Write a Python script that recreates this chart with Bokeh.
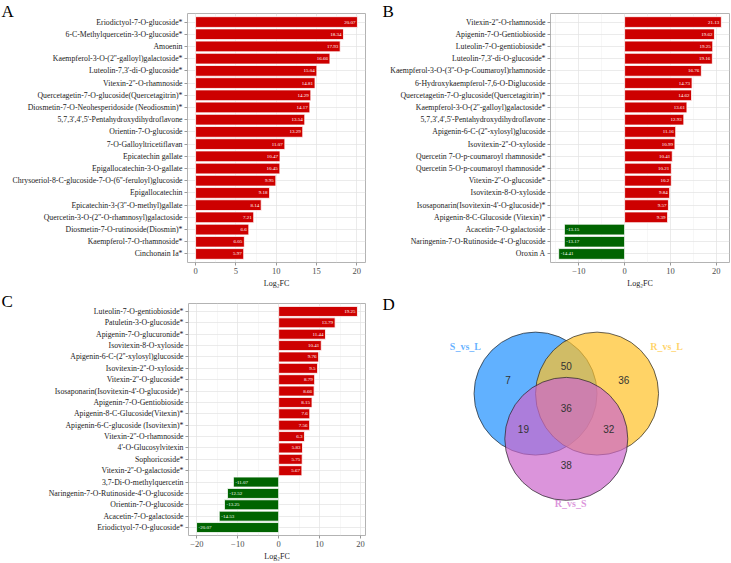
from bokeh.plotting import figure
from bokeh.layouts import row, column
from bokeh.models import FactorRange, Range1d, ColumnDataSource, FixedTicker
from bokeh.embed import file_html
from bokeh.resources import INLINE
from bokeh.core.properties import value

# ---------------- data ----------------
a_names = [
    "Eriodictyol-7-O-glucoside*",
    "6-C-Methylquercetin-3-O-glucoside*",
    "Amoenin",
    "Kaempferol-3-O-(2''-galloyl)galactoside*",
    "Luteolin-7,3'-di-O-glucoside*",
    "Vitexin-2''-O-rhamnoside",
    "Quercetagetin-7-O-glucoside(Quercetagitrin)*",
    "Diosmetin-7-O-Neohesperidoside (Neodiosmin)*",
    "5,7,3',4',5'-Pentahydroxydihydroflavone",
    "Orientin-7-O-glucoside",
    "7-O-Galloyltricetiflavan",
    "Epicatechin gallate",
    "Epigallocatechin-3-O-gallate",
    "Chrysoeriol-8-C-glucoside-7-O-(6''-feruloyl)glucoside",
    "Epigallocatechin",
    "Epicatechin-3-(3''-O-methyl)gallate",
    "Quercetin-3-O-(2''-O-rhamnosyl)galactoside",
    "Diosmetin-7-O-rutinoside(Diosmin)*",
    "Kaempferol-7-O-rhamnoside*",
    "Cinchonain Ia*",
]
a_vals = [20.07, 18.34, 17.93, 16.66, 15.04, 14.81, 14.29, 14.17, 13.54, 13.29,
          11.07, 10.47, 10.45, 9.95, 9.18, 8.14, 7.21, 6.6, 6.05, 5.97]

b_names = [
    "Vitexin-2''-O-rhamnoside",
    "Apigenin-7-O-Gentiobioside",
    "Luteolin-7-O-gentiobioside*",
    "Luteolin-7,3'-di-O-glucoside*",
    "Kaempferol-3-O-(3''-O-p-Coumaroyl)rhamnoside",
    "6-Hydroxykaempferol-7,6-O-Diglucoside",
    "Quercetagetin-7-O-glucoside(Quercetagitrin)*",
    "Kaempferol-3-O-(2''-galloyl)galactoside*",
    "5,7,3',4',5'-Pentahydroxydihydroflavone",
    "Apigenin-6-C-(2''-xylosyl)glucoside",
    "Isovitexin-2''-O-xyloside",
    "Quercetin 7-O-p-coumaroyl rhamnoside*",
    "Quercetin 5-O-p-coumaroyl rhamnoside*",
    "Vitexin-2''-O-glucoside*",
    "Isovitexin-8-O-xyloside",
    "Isosaponarin(Isovitexin-4'-O-glucoside)*",
    "Apigenin-8-C-Glucoside (Vitexin)*",
    "Acacetin-7-O-galactoside",
    "Naringenin-7-O-Rutinoside-4'-O-glucoside",
    "Oroxin A",
]
b_vals = [21.13, 19.62, 19.25, 19.16, 16.76, 14.73, 14.62, 13.61, 12.93, 11.16,
          10.99, 10.41, 10.21, 10.2, 9.84, 9.57, 9.39, -13.15, -13.17, -14.41]

c_names = [
    "Luteolin-7-O-gentiobioside*",
    "Patuletin-3-O-glucoside*",
    "Apigenin-7-O-glucuronide*",
    "Isovitexin-8-O-xyloside",
    "Apigenin-6-C-(2''-xylosyl)glucoside",
    "Isovitexin-2''-O-xyloside",
    "Vitexin-2''-O-glucoside*",
    "Isosaponarin(Isovitexin-4'-O-glucoside)*",
    "Apigenin-7-O-Gentiobioside",
    "Apigenin-8-C-Glucoside(Vitexin)*",
    "Apigenin-6-C-glucoside (Isovitexin)*",
    "Vitexin-2''-O-rhamnoside",
    "4'-O-Glucosylvitexin",
    "Sophoricoside*",
    "Vitexin-2''-O-galactoside*",
    "3,7-Di-O-methylquercetin",
    "Naringenin-7-O-Rutinoside-4'-O-glucoside",
    "Orientin-7-O-glucoside",
    "Acacetin-7-O-galactoside",
    "Eriodictyol-7-O-glucoside*",
]
c_vals = [19.25, 13.79, 11.44, 10.41, 9.76, 9.5, 8.79, 8.66, 8.15, 7.6,
          7.56, 6.3, 5.83, 5.75, 5.67, -11.07, -12.52, -13.25, -14.53, -20.07]

venn_sets = ["S_vs_L", "R_vs_L", "R_vs_S"]
venn_counts = [7, 50, 36, 36, 19, 32, 38]   # S only, S&RL, RL only, all, S&RS, RL&RS, RS only

# ---------------- style ----------------
RED = "#CD0000"
GREEN = "#006400"
SERIF = "Liberation Serif"
GRID = "#E3E3E3"
BORDER = "#B3B3B3"


def bar_panel(names, vals, xr, ticks, minor, width, height, bl, br, bt, bb, letter, letter_x, letter_top):
    factors = list(reversed(names))
    p = figure(width=width, height=height,
               y_range=FactorRange(factors=factors, range_padding=0.2, range_padding_units="absolute"),
               x_range=Range1d(*xr), output_backend="svg", toolbar_location=None,
               min_border_left=bl, min_border_right=br, min_border_top=bt, min_border_bottom=bb)
    colors = [RED if v > 0 else GREEN for v in vals]
    src = ColumnDataSource(dict(name=names, val=vals, color=colors))
    p.hbar(y="name", left=0, right="val", height=0.88, fill_color="color",
           line_color="white", line_width=0.8, source=src)
    pos = ColumnDataSource(dict(name=[n for n, v in zip(names, vals) if v > 0],
                                val=[v for v in vals if v > 0],
                                lab=[str(v) for v in vals if v > 0]))
    neg = ColumnDataSource(dict(name=[n for n, v in zip(names, vals) if v < 0],
                                val=[v for v in vals if v < 0],
                                lab=[str(v) for v in vals if v < 0]))
    p.text(x="val", y="name", text="lab", source=pos, x_offset=-2, text_align="right",
           text_baseline="middle", text_color="white", text_font_size="5px",
           text_font=value(SERIF))
    p.text(x="val", y="name", text="lab", source=neg, x_offset=2, text_align="left",
           text_baseline="middle", text_color="white", text_font_size="5px",
           text_font=value(SERIF))

    p.xaxis.ticker = FixedTicker(ticks=ticks, minor_ticks=minor)
    p.xgrid.grid_line_color = GRID
    p.xgrid.grid_line_width = 0.7
    p.xgrid.minor_grid_line_color = "#EFEFEF"
    p.xgrid.minor_grid_line_width = 0.5
    p.ygrid.grid_line_color = GRID
    p.ygrid.grid_line_width = 0.7
    p.outline_line_color = BORDER
    p.outline_line_width = 1

    for ax in (p.xaxis, p.yaxis):
        ax.axis_line_color = None
        ax.major_tick_line_color = "#999999"
        ax.major_tick_out = 3
        ax.major_tick_in = 0
        ax.minor_tick_line_color = None
        ax.major_label_text_font = SERIF
        ax.major_label_standoff = 2
    p.yaxis.major_label_text_font_size = "7.8px"
    p.yaxis.major_label_text_color = "#1a1a1a"
    p.xaxis.major_label_text_font_size = "8.5px"
    p.xaxis.major_label_text_color = "#4D4D4D"
    p.xaxis.major_label_standoff = 1
    p.xaxis.axis_label = "Log\u2082FC"
    p.xaxis.axis_label_text_font = SERIF
    p.xaxis.axis_label_text_font_size = "8px"
    p.xaxis.axis_label_text_font_style = "normal"
    p.xaxis.axis_label_text_color = "#1a1a1a"
    p.xaxis.axis_label_standoff = 2

    # panel letter: a text glyph placed in data space, beyond the frame (overlay level)
    frame_h = height - bt - bb
    frame_w = width - bl - br
    xs = xr[0] + (letter_x - bl) * (xr[1] - xr[0]) / frame_w
    n = len(names)
    unit = frame_h / (n + 0.2)
    ys = (n + 0.1) - (letter_top - bt) / unit
    p.text(x=[xs], y=[ys], text=[letter], text_font=value(SERIF), text_font_size="17px",
           text_color="black", text_align="left", text_baseline="top", level="overlay")
    return p


pA = bar_panel(a_names, a_vals, (-1.0, 21.07), [0, 5, 10, 15, 20], [2.5, 7.5, 12.5, 17.5],
               368, 290, 187, 3, 13, 25, "A", 1, 0)
pB = bar_panel(b_names, b_vals, (-16.19, 22.91), [-10, 0, 10, 20], [-15, -5, 5, 15],
               363, 290, 182, 2, 13, 25, "B", 14, 0)
pC = bar_panel(c_names, c_vals, (-22.04, 21.22), [-20, -10, 0, 10, 20], [-15, -5, 5, 15],
               368, 273, 188, 3, 13, 25, "C", 1, 0)

# ---------------- Venn ----------------
pD = figure(width=363, height=273, x_range=Range1d(-3.216, 2.686), y_range=Range1d(-2.715, 1.724),
            output_backend="svg", toolbar_location=None, min_border=0,
            x_axis_location=None, y_axis_location=None)
pD.grid.visible = False
pD.outline_line_color = None

venn_cx = [-0.5, 0.5, 0.0]
venn_cy = [0.0, 0.0, -0.866]
venn_colors = ["#1E90FF", "#FFC125", "#CC66CC"]
for cx, cy, col in zip(venn_cx, venn_cy, venn_colors):
    pD.circle(x=[cx], y=[cy], radius=1.0, fill_color=col, fill_alpha=0.7,
              line_color="#222222", line_width=0.7)

num_x = [-0.946, 0.0, 0.934, 0.0, -0.697, 0.69, 0.0]
num_y = [0.26, 0.52, 0.26, -0.28, -0.678, -0.678, -1.366]
pD.text(x=num_x, y=num_y, text=[str(c) for c in venn_counts], text_align="center",
        text_baseline="middle", text_font_size="10px", text_font=value("Liberation Sans"),
        text_color="#333333")

set_x = [-1.64, 1.63, 0.07]
set_y = [0.91, 0.91, -2.11]
pD.text(x=set_x, y=set_y, text=venn_sets, text_align="center", text_baseline="middle",
        text_font_size="10px", text_font=value(SERIF), text_font_style="bold",
        text_color=venn_colors, text_alpha=0.7)

# panel letter, in the frame's own data space
pD.text(x=[-3.216 + 14 / 61.5], y=[1.724 + 10 / 61.5], text=["D"], text_font=value(SERIF),
        text_font_size="17px", text_color="black", text_align="left", text_baseline="top",
        level="overlay")

layout = column(row(pA, pB), row(pC, pD))
open("out.html", "w").write(file_html(layout, INLINE))
